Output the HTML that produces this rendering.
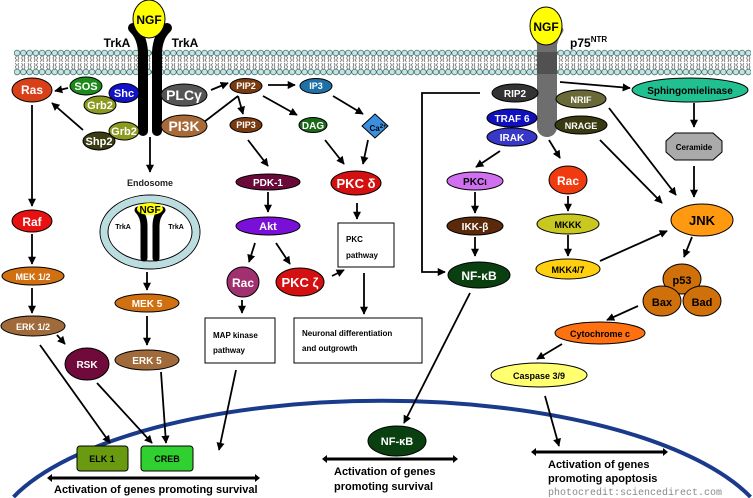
<!DOCTYPE html>
<html><head><meta charset="utf-8"><style>
html,body{margin:0;padding:0;background:#fff;width:753px;height:498px;overflow:hidden;}
svg{display:block;overflow:hidden;}
text{font-family:"Liberation Sans",sans-serif;font-weight:bold;}
</style></head><body>
<svg width="753" height="498" viewBox="0 0 753 498" xmlns="http://www.w3.org/2000/svg">
<defs>
<marker id="a" viewBox="0 0 10 10" refX="9" refY="5" markerWidth="4.5" markerHeight="4.5" orient="auto"><path d="M0,0 L10,5 L0,10 z" fill="#000"/></marker>
<pattern id="mem" patternUnits="userSpaceOnUse" x="14" y="49" width="6.25" height="27">
<circle cx="3.1" cy="4" r="2.9" fill="#c4e4e2" stroke="#3c6868" stroke-width="0.7"/>
<circle cx="3.1" cy="23" r="2.9" fill="#c4e4e2" stroke="#3c6868" stroke-width="0.7"/>
<path d="M2.4,7 L1.4,9 L2.4,11 L1.4,13 M3.8,7 L4.8,9 L3.8,11 L4.8,13 M2.4,20 L1.4,18 L2.4,16 L1.4,14 M3.8,20 L4.8,18 L3.8,16 L4.8,14" stroke="#333" stroke-width="0.6" fill="none"/>
</pattern>
</defs>

<path d="M13.5,497 A392,146 0 0 1 750.5,497" fill="none" stroke="#1a3a8c" stroke-width="4"/>

<rect x="14" y="49" width="737" height="27" fill="url(#mem)"/>

<path d="M133,28 Q142,36 143,52 L143,131" stroke="#000" stroke-width="10" fill="none" stroke-linecap="round"/>
<path d="M167,28 Q158,36 157,52 L157,131" stroke="#000" stroke-width="10" fill="none" stroke-linecap="round"/>
<ellipse cx="149" cy="19" rx="16" ry="19" fill="#ffff00" stroke="#000"/>
<text x="149" y="24" font-size="12" text-anchor="middle">NGF</text>
<text x="117" y="47" font-size="12" text-anchor="middle">TrkA</text>
<text x="185" y="47" font-size="12" text-anchor="middle">TrkA</text>

<path d="M534,30 Q540,38 541,48" stroke="#777" stroke-width="7" fill="none" stroke-linecap="round"/>
<path d="M560,30 Q554,38 553,48" stroke="#777" stroke-width="7" fill="none" stroke-linecap="round"/>
<path d="M547,44 L547,127" stroke="#6e6e6e" stroke-width="20" fill="none" stroke-linecap="round"/>
<rect x="537" y="52" width="20" height="22" fill="#333" opacity="0.5"/>
<ellipse cx="546" cy="26" rx="16" ry="19" fill="#ffff00" stroke="#000"/>
<text x="546" y="31" font-size="12" text-anchor="middle">NGF</text>
<text x="570" y="47" font-size="12">p75<tspan font-size="8" dy="-5">NTR</tspan></text>

<g stroke="#000" stroke-width="1.8" fill="none" marker-end="url(#a)">
<line x1="68" y1="88" x2="55" y2="91"/>
<line x1="83" y1="130" x2="52" y2="103"/>
<line x1="32" y1="105" x2="32" y2="206"/>
<line x1="32" y1="234" x2="32" y2="264"/>
<line x1="32" y1="288" x2="32" y2="313"/>
<line x1="57" y1="335" x2="65" y2="344"/>
<line x1="40" y1="345" x2="110" y2="443"/>
<line x1="97" y1="383" x2="152" y2="443"/>
<line x1="161" y1="372" x2="166" y2="443"/>
<line x1="150" y1="137" x2="150" y2="172"/>
<line x1="147" y1="272" x2="147" y2="290"/>
<line x1="147" y1="316" x2="147" y2="345"/>
<line x1="211" y1="90" x2="228" y2="83"/>
<line x1="238" y1="96" x2="243" y2="114"/>
<line x1="268" y1="85" x2="295" y2="85"/>
<line x1="263" y1="96" x2="297" y2="115"/>
<line x1="333" y1="96" x2="363" y2="114"/>
<line x1="325" y1="140" x2="344" y2="164"/>
<line x1="368" y1="140" x2="363" y2="164"/>
<line x1="248" y1="140" x2="268" y2="166"/>
<line x1="268" y1="192" x2="268" y2="212"/>
<line x1="255" y1="243" x2="249" y2="262"/>
<line x1="276" y1="243" x2="290" y2="264"/>
<line x1="357" y1="203" x2="357" y2="219"/>
<line x1="332" y1="276" x2="344" y2="270"/>
<line x1="242" y1="300" x2="242" y2="313"/>
<line x1="364" y1="273" x2="364" y2="314"/>
<line x1="236" y1="370" x2="219" y2="450"/>
<line x1="470" y1="293" x2="404" y2="423"/>
<polyline points="480,93 422,93 422,272 445,272"/>
<line x1="475" y1="192" x2="475" y2="213"/>
<line x1="475" y1="237" x2="475" y2="256"/>
<line x1="500" y1="151" x2="476" y2="167"/>
<line x1="549" y1="140" x2="560" y2="158"/>
<line x1="568" y1="196" x2="568" y2="211"/>
<line x1="568" y1="235" x2="568" y2="256"/>
<line x1="600" y1="261" x2="667" y2="231"/>
<line x1="609" y1="108" x2="676" y2="195"/>
<line x1="600" y1="140" x2="662" y2="203"/>
<line x1="560" y1="82" x2="630" y2="88"/>
<line x1="694" y1="103" x2="694" y2="127"/>
<line x1="694" y1="166" x2="694" y2="197"/>
<line x1="692" y1="237" x2="684" y2="257"/>
<line x1="638" y1="306" x2="607" y2="320"/>
<line x1="562" y1="344" x2="537" y2="359"/>
<line x1="545" y1="396" x2="559" y2="446"/>
<line x1="191" y1="132" x2="238" y2="96" marker-end="none"/>
</g>

<g stroke="#000" stroke-width="1">
<ellipse cx="32" cy="90" rx="20" ry="12" fill="#d8401a"/>
<ellipse cx="86" cy="86" rx="16" ry="9" fill="#1a8a1a"/>
<ellipse cx="124" cy="93" rx="15" ry="9.5" fill="#1212c8"/>
<ellipse cx="100" cy="105" rx="16" ry="9" fill="#8c9a20"/>
<ellipse cx="99" cy="141" rx="16" ry="9" fill="#3c3c12"/>
<ellipse cx="124" cy="131" rx="15" ry="9" fill="#8c9a20"/>
<ellipse cx="184" cy="95" rx="23" ry="11" fill="#555"/>
<ellipse cx="184" cy="126" rx="23" ry="11" fill="#a86a38"/>
<ellipse cx="246" cy="86" rx="16" ry="7.5" fill="#7a3a10"/>
<ellipse cx="316" cy="86" rx="16" ry="7.5" fill="#2070a8"/>
<ellipse cx="246" cy="125" rx="16" ry="7.5" fill="#7a3a10"/>
<ellipse cx="313" cy="125" rx="14" ry="7.5" fill="#1a6a1a"/>
<polygon points="375,114 388,126 375,138 362,126" fill="#3a90e0"/>
<ellipse cx="268" cy="182" rx="32" ry="8" fill="#6a0a3a"/>
<ellipse cx="356" cy="183" rx="25" ry="12" fill="#d41010"/>
<ellipse cx="268" cy="226" rx="32" ry="9" fill="#7a10d8"/>
<ellipse cx="243" cy="282" rx="16" ry="15" fill="#a03070"/>
<ellipse cx="300" cy="282" rx="24" ry="14" fill="#d41010"/>
<ellipse cx="32" cy="221" rx="20" ry="11" fill="#e81010"/>
<ellipse cx="33" cy="276" rx="31" ry="9" fill="#d07010"/>
<ellipse cx="33" cy="326" rx="32" ry="10" fill="#a06a3a"/>
<ellipse cx="87" cy="364" rx="22" ry="16" fill="#700a3a"/>
<ellipse cx="147" cy="303" rx="32" ry="9" fill="#d07010"/>
<ellipse cx="147" cy="360" rx="32" ry="10" fill="#a06a3a"/>
<rect x="77" y="446" width="51" height="25" rx="3" fill="#6a9a10"/>
<rect x="141" y="446" width="52" height="25" rx="3" fill="#30d030"/>
<ellipse cx="397" cy="441" rx="29" ry="15" fill="#0a4010"/>
</g>
<g stroke="#000" stroke-width="1" fill="#fff">
<rect x="338" y="223" width="56" height="44"/>
<rect x="205" y="318" width="70" height="45"/>
<rect x="294" y="318" width="128" height="45"/>
</g>

<ellipse cx="150" cy="232" rx="50" ry="37" fill="none" stroke="#000" stroke-width="1"/>
<ellipse cx="150" cy="232" rx="46" ry="33" fill="none" stroke="#bcdde0" stroke-width="7"/>
<ellipse cx="150" cy="232" rx="42" ry="29" fill="#fff" stroke="#000" stroke-width="1"/>
<path d="M138,210 Q144,216 144,226 L144,258" stroke="#000" stroke-width="7" fill="none" stroke-linecap="round"/>
<path d="M162,210 Q156,216 156,226 L156,258" stroke="#000" stroke-width="7" fill="none" stroke-linecap="round"/>
<ellipse cx="150" cy="209" rx="13" ry="6" fill="#ffff00"/>
<text x="150" y="213" font-size="10" text-anchor="middle">NGF</text>
<text x="123" y="229" font-size="7" font-weight="normal" text-anchor="middle">TrkA</text>
<text x="176" y="229" font-size="7" font-weight="normal" text-anchor="middle">TrkA</text>
<text x="150" y="186" font-size="9" text-anchor="middle" fill="#222">Endosome</text>

<g stroke="#000" stroke-width="1">
<ellipse cx="515" cy="93" rx="23" ry="9" fill="#333"/>
<ellipse cx="512" cy="118" rx="25" ry="9" fill="#1010c0"/>
<ellipse cx="512" cy="137" rx="25" ry="9" fill="#3838c8"/>
<ellipse cx="581" cy="99" rx="25" ry="9" fill="#6a6a38"/>
<ellipse cx="581" cy="125" rx="26" ry="9" fill="#3a3a12"/>
<ellipse cx="690" cy="90" rx="58" ry="12" fill="#20c090"/>
<polygon points="675,133 713,133 722,141 722,152 713,160 675,160 666,152 666,141" fill="#aaa"/>
<ellipse cx="475" cy="181" rx="28" ry="9" fill="#d070f0"/>
<ellipse cx="568" cy="180" rx="19" ry="14" fill="#f03a10"/>
<ellipse cx="475" cy="226" rx="28" ry="9" fill="#5a2a0a"/>
<ellipse cx="568" cy="224" rx="31" ry="10" fill="#c8c820"/>
<ellipse cx="702" cy="220" rx="31" ry="16" fill="#ff9a10"/>
<ellipse cx="479" cy="275" rx="31" ry="13" fill="#0a4010"/>
<ellipse cx="568" cy="269" rx="32" ry="10" fill="#ffd010"/>
<ellipse cx="682" cy="279" rx="19" ry="15" fill="#d0700a"/>
<ellipse cx="662" cy="301" rx="19" ry="15" fill="#d0700a"/>
<ellipse cx="702" cy="301" rx="19" ry="15" fill="#d0700a"/>
<ellipse cx="600" cy="333" rx="45" ry="11" fill="#ff7010"/>
<ellipse cx="539" cy="375" rx="48" ry="12" fill="#ffff70"/>
</g>

<g stroke="#000" stroke-width="3">
<line x1="50" y1="478" x2="257" y2="478"/>
<line x1="325" y1="459" x2="455" y2="459"/>
<line x1="534" y1="452" x2="665" y2="452"/>
</g>
<g fill="#000">
<polygon points="47,478 52,474 52,482"/><polygon points="260,478 255,474 255,482"/>
<polygon points="322,459 327,455 327,463"/><polygon points="458,459 453,455 453,463"/>
<polygon points="531,452 536,448 536,456"/><polygon points="668,452 663,448 663,456"/>
</g>

<g fill="#fff" text-anchor="middle" font-size="11">
<text x="32" y="94" font-size="12">Ras</text>
<text x="86" y="90">SOS</text>
<text x="124" y="97">Shc</text>
<text x="100" y="109">Grb2</text>
<text x="124" y="135">Grb2</text>
<text x="99" y="145">Shp2</text>
<text x="184" y="100" font-size="14">PLCγ</text>
<text x="184" y="131" font-size="14">PI3K</text>
<text x="246" y="89" font-size="9">PIP2</text>
<text x="316" y="89" font-size="9">IP3</text>
<text x="246" y="128" font-size="9">PIP3</text>
<text x="313" y="129" font-size="10">DAG</text>
<text x="268" y="186" font-size="10">PDK-1</text>
<text x="356" y="188" font-size="13">PKC δ</text>
<text x="268" y="230" font-size="11">Akt</text>
<text x="243" y="287" font-size="12">Rac</text>
<text x="300" y="287" font-size="13">PKC ζ</text>
<text x="32" y="226" font-size="12">Raf</text>
<text x="33" y="280" font-size="9">MEK 1/2</text>
<text x="33" y="330" font-size="9">ERK 1/2</text>
<text x="87" y="368" font-size="10">RSK</text>
<text x="147" y="307" font-size="10">MEK 5</text>
<text x="147" y="364" font-size="10">ERK 5</text>
<text x="397" y="445" font-size="11">NF-κB</text>
<text x="515" y="97" font-size="10">RIP2</text>
<text x="512" y="122" font-size="10">TRAF 6</text>
<text x="512" y="141" font-size="10">IRAK</text>
<text x="581" y="103" font-size="9">NRIF</text>
<text x="581" y="129" font-size="9">NRAGE</text>
<text x="568" y="185" font-size="12">Rac</text>
<text x="475" y="230" font-size="10">IKK-β</text>
<text x="479" y="280" font-size="12">NF-κB</text>
</g>
<text x="378" y="131" font-size="8" fill="#000" text-anchor="middle">Ca<tspan font-size="6" dy="-3">2+</tspan></text>

<g fill="#000" text-anchor="middle">
<text x="102" y="462" font-size="9">ELK 1</text>
<text x="167" y="462" font-size="9">CREB</text>
<text x="690" y="94" font-size="10">Sphingomielinase</text>
<text x="694" y="150" font-size="8">Ceramide</text>
<text x="475" y="185" font-size="10">PKCι</text>
<text x="568" y="228" font-size="9">MKKK</text>
<text x="702" y="225" font-size="13">JNK</text>
<text x="568" y="273" font-size="9">MKK4/7</text>
<text x="682" y="284" font-size="11">p53</text>
<text x="662" y="306" font-size="11">Bax</text>
<text x="702" y="306" font-size="11">Bad</text>
<text x="600" y="337" font-size="9">Cytochrome c</text>
<text x="539" y="379" font-size="9">Caspase 3/9</text>
</g>
<g fill="#000" font-size="8">
<text x="346" y="242">PKC</text>
<text x="346" y="258">pathway</text>
<text x="213" y="338">MAP kinase</text>
<text x="213" y="353">pathway</text>
<text x="302" y="336">Neuronal differentiation</text>
<text x="302" y="351">and outgrowth</text>
</g>
<g fill="#000" font-size="11">
<text x="54" y="493">Activation of genes promoting survival</text>
<text x="334" y="475">Activation of genes</text>
<text x="334" y="490">promoting survival</text>
<text x="548" y="468">Activation of genes</text>
<text x="548" y="482">promoting apoptosis</text>
</g>
<text x="548" y="495" font-size="10" fill="#888" style="font-family:'Liberation Mono',monospace;font-weight:normal">photocredit:sciencedirect.com</text>
</svg>
</body></html>
